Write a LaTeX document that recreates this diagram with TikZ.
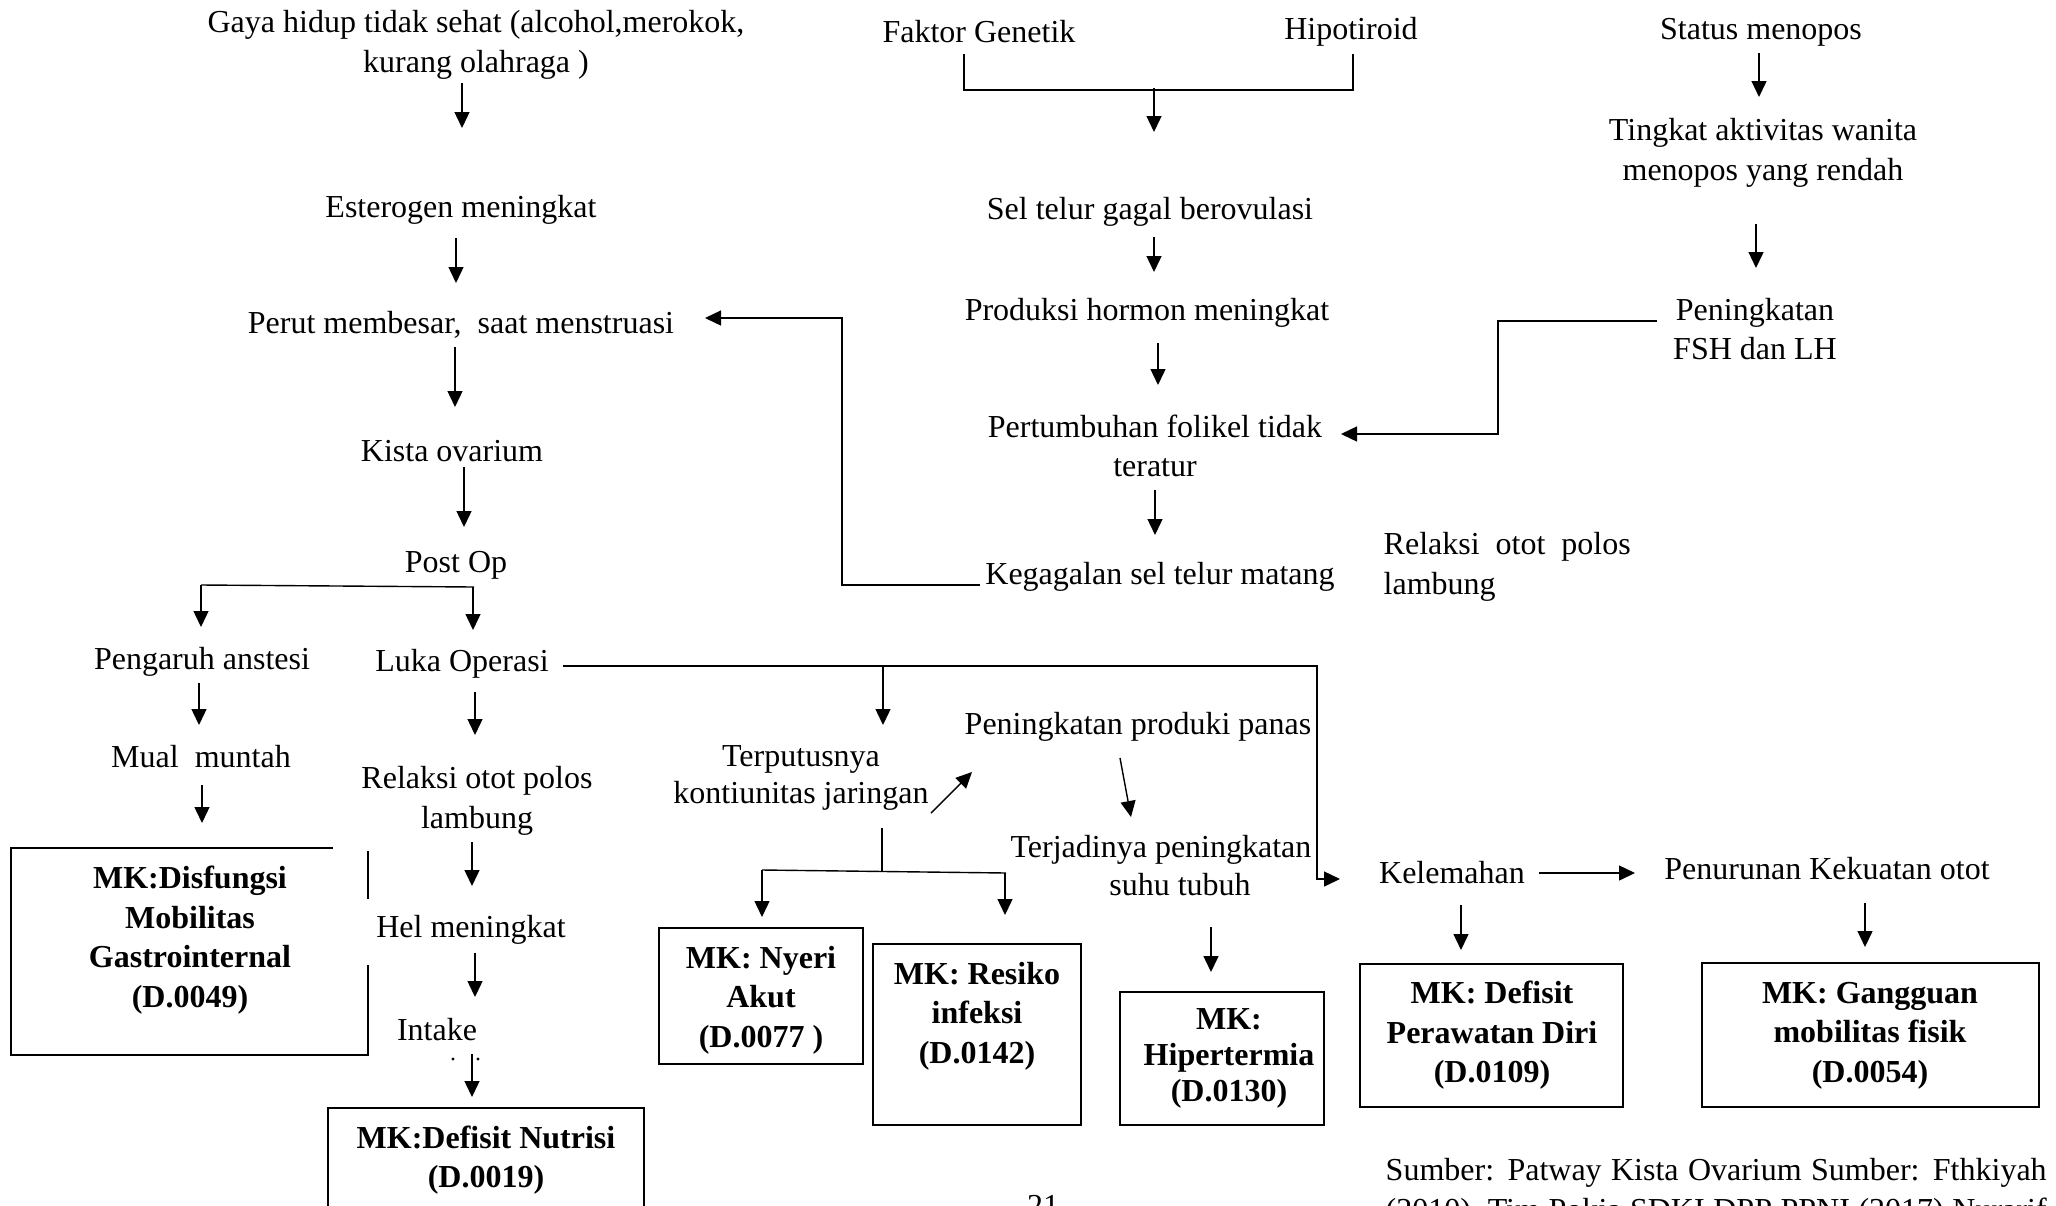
\documentclass[tikz,border=0pt]{standalone}
\usepackage{fontspec}
\setmainfont{Liberation Serif}
\usetikzlibrary{arrows.meta}
\begin{document}
\begin{tikzpicture}[x=0.5pt,y=-0.5pt,line width=0.7pt,
  arr/.style={-{Triangle[length=8pt,width=7.5pt]}},
  txt/.style={inner sep=0pt,align=center,font=\fontsize{16pt}{19.75pt}\selectfont},
  btxt/.style={txt,font=\fontsize{16pt}{19.75pt}\selectfont\bfseries},
  mkbox/.style={draw,line width=0.75pt,inner sep=0pt}]
\useasboundingbox (0,0) rectangle (2056,1205);
\clip (0,0) rectangle (2056,1205);

% ---------- left column ----------
\node[txt] (gaya) at (476,45) {Gaya hidup tidak sehat (alcohol,merokok,\\kurang olahraga )};
\node[txt] (ester) at (461,210) {Esterogen meningkat};
\node[txt] (perut) at (461,325) {Perut membesar,\ \ saat menstruasi};
\node[txt] (kista) at (452,451) {Kista ovarium};
\node[txt] (postop) at (456,565) {Post Op};
\node[txt] (anest) at (202,662) {Pengaruh anstesi};
\node[txt] (luka) at (462,664) {Luka Operasi};
\node[txt] (mual) at (201,757) {Mual\ \ muntah};
\node[txt] (relaksi) at (477,801) {Relaksi otot polos\\lambung};
\node[txt] (hel) at (471,930) {Hel meningkat};
\node[txt] (intake) at (437,1030) {Intake};

\node[btxt] (disf) at (190,940) {MK:Disfungsi\\Mobilitas\\Gastrointernal\\(D.0049)};
\draw[line width=0.75pt] (333,848) -- (11,848) -- (11,1055) -- (368,1055) -- (368,965);
\draw[line width=0.75pt] (368,851) -- (368,899);

\node[mkbox,minimum width=158pt,minimum height=66pt] (nutbox) at (486,1174) {};
\node[btxt] (nut) at (486,1160) {MK:Defisit Nutrisi\\(D.0019)};

% ---------- middle column ----------
\node[txt] (faktor) at (979,32) {Faktor Genetik};
\node[txt] (hipo) at (1351,32) {Hipotiroid};
\node[txt] (sel) at (1150,212) {Sel telur gagal berovulasi};
\node[txt] (prod) at (1147,313) {Produksi hormon meningkat};
\node[txt] (pert) at (1155,446) {Pertumbuhan folikel tidak\\teratur};
\node[txt] (gagal) at (1160,577) {Kegagalan sel telur matang};

% ---------- right column ----------
\node[txt] (status) at (1761,32) {Status menopos};
\node[txt] (tingkat) at (1763,153) {Tingkat aktivitas wanita\\menopos yang rendah};
\node[txt] (fsh) at (1755,329) {Peningkatan\\FSH dan LH};
\node[txt,align=left,anchor=west] (relaksi2) at (1383,567) {\makebox[123.5pt][s]{Relaksi otot polos}\\lambung};

% ---------- lower middle ----------
\node[txt,font=\fontsize{16pt}{18.5pt}\selectfont] (terput) at (801,778) {Terputusnya\\kontiunitas jaringan};
\node[txt] (panas) at (1138,727) {Peningkatan produki panas};
\node[txt,font=\fontsize{16pt}{19pt}\selectfont] (terjadi) at (1161,866) {Terjadinya peningkatan\\\hspace*{19pt}suhu tubuh};
\node[txt] (lemah) at (1452,873) {Kelemahan};
\node[txt] (turun) at (1827,869) {Penurunan Kekuatan otot};

\node[mkbox,minimum width=102pt,minimum height=68pt] (nyeribox) at (761,996) {};
\node[btxt] (nyeri) at (761,1000) {MK: Nyeri\\Akut\\(D.0077 )};
\node[mkbox,minimum width=104pt,minimum height=90.5pt] (resbox) at (977,1034.5) {};
\node[btxt] (res) at (977,1016) {MK: Resiko\\infeksi\\(D.0142)};
\node[mkbox,line width=1.1pt,minimum width=102pt,minimum height=66.5pt] (hipbox) at (1222,1058.5) {};
\node[btxt,font=\fontsize{16pt}{18pt}\selectfont\bfseries] (hip) at (1229,1058) {MK:\\Hipertermia\\(D.0130)};
\node[mkbox,minimum width=131.5pt,minimum height=71.5pt] (defbox) at (1491.5,1035.5) {};
\node[btxt] (def) at (1492,1035.5) {MK: Defisit\\Perawatan Diri\\(D.0109)};
\node[mkbox,minimum width=168.5pt,minimum height=72pt] (ganbox) at (1870.5,1035) {};
\node[btxt] (gan) at (1870,1035.5) {MK: Gangguan\\mobilitas fisik\\(D.0054)};

% ---------- footer ----------
\node[txt,anchor=base west] (sumber) at (1385,1180) {\makebox[330.5pt][s]{Sumber: Patway Kista Ovarium Sumber: Fthkiyah}};
\node[txt,anchor=base west] (sumber2) at (1385,1220) {\makebox[330.5pt][s]{(2010), Tim Pokja SDKI DPP PPNI (2017) Nurarif}};
\node[txt,anchor=base] (page) at (1043,1216) {21};

% ---------- connectors: left ----------
\draw[arr] (462,83) -- (462,128);
\draw[arr] (456,238) -- (456,283);
\draw[arr] (455,347) -- (455,407);
\draw[arr] (464,467) -- (464,527);
\draw (474,587) -- (201,585);
\draw[arr] (201,585) -- (201,627);
\draw[arr] (473,587) -- (473,630);
\draw[arr] (199,683) -- (199,725);
\draw[arr] (202,785) -- (202,823);
\draw[arr] (475,692) -- (475,735);
\draw[arr] (472,842) -- (472,886);
\draw[arr] (475,953) -- (475,997);
\draw[arr] (472,1054) -- (472,1097);
\fill (453,1059) circle (0.8pt);
\fill (478,1059) circle (0.8pt);

% Luka Operasi long connector
\draw[arr] (563,666) -- (1317,666) -- (1317,879) -- (1340,879);
\draw[arr] (883,666) -- (883,725);

% Terputusnya branch
\draw (882,828) -- (882,871);
\draw (762,870) -- (1006,873);
\draw[arr] (762,870) -- (762,917);
\draw[arr] (1005,873) -- (1005,915);
\draw[arr] (931,813) -- (972,772);
\draw[arr] (1120,758) -- (1131,817);
\draw[arr] (1211,927) -- (1211,972);

% Kelemahan
\draw[arr] (1539,873) -- (1635,873);
\draw[arr] (1461,905) -- (1461,950);
\draw[arr] (1865,903) -- (1865,947);

% ---------- connectors: middle ----------
\draw (964,54) -- (964,90) -- (1353,90) -- (1353,54);
\draw[arr] (1154,88) -- (1154,132);
\draw[arr] (1154,237) -- (1154,272);
\draw[arr] (1158,343) -- (1158,385);
\draw[arr] (1155,490) -- (1155,535);
\draw[arr] (980,585) -- (842,585) -- (842,318) -- (705,318);

% ---------- connectors: right ----------
\draw[arr] (1759,53) -- (1759,97);
\draw[arr] (1756,224) -- (1756,268);
\draw[arr] (1657,321) -- (1498,321) -- (1498,434) -- (1341,434);
\end{tikzpicture}
\end{document}
